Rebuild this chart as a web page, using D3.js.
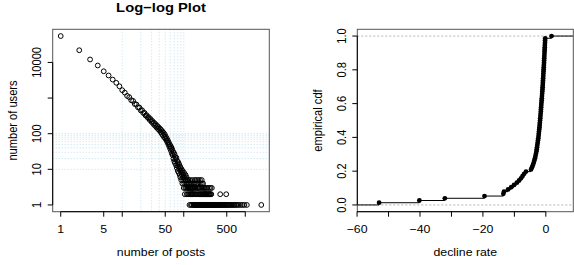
<!DOCTYPE html>
<html>
<head>
<meta charset="utf-8">
<script src="https://cdn.jsdelivr.net/npm/d3@7"></script>
<style>
  body { margin: 0; background: #fff; }
</style>
</head>
<body>
<div id="viz"></div>
<script>
// ---- data: users per number of posts (posts = index + 1 for the head)
const usersHead = [
  55000, 22000, 12100, 8200, 5650, 4300, 3300, 2680, 2140, 1660,
  1420, 1150, 1060, 870, 830, 680, 660, 550, 540, 450,
  455, 380, 385, 322, 330, 280, 290, 243, 256, 214,
  226, 188, 202, 168, 184, 151, 166, 137, 152, 125,
  139, 112, 127, 99, 116, 89, 106, 80, 96, 74,
  83, 66, 74, 58, 65, 51, 57, 44, 50, 38,
  45, 33, 41, 28, 36, 25, 31, 20, 29, 17,
  26, 15, 22, 19, 13, 21, 11, 17, 14, 9,
  16, 12, 8, 14, 10, 7, 12, 6, 11, 9,
  5, 10, 7, 8, 4, 9, 6, 5, 7, 3,
  8, 4, 6, 2, 5, 3, 7, 4, 5, 3, 6, 2, 4, 5, 3, 4, 2, 3, 5, 4,
  3, 2, 4, 1, 3, 5, 2, 3, 4, 2, 1, 3, 4, 2, 3, 1, 2, 5, 3, 2
];
// tail: post counts seen for exactly k users
const postsWith5 = [150, 158, 171, 183, 196];
const postsWith4 = [145, 152, 161, 167, 176, 188, 198, 206];
const postsWith3 = [143, 149, 155, 163, 169, 174, 181, 192, 201, 210, 219, 228, 241, 257, 272, 286];
const postsWith2 = [142, 147, 153, 157, 165, 172, 179, 185, 190, 194, 203, 208, 213, 217, 222, 226,
  231, 236, 243, 249, 254, 261, 267, 275, 280, 391, 490];
const postsWith1 = [144, 146, 148, 151, 154, 156, 159, 160, 162, 164, 166, 168, 170, 173, 175, 177,
  178, 180, 182, 184, 186, 187, 189, 191, 193, 195, 197, 199, 200, 202, 204, 205, 207, 209, 211,
  212, 214, 216, 218, 220, 223, 225, 227, 230, 233, 235, 238, 240, 244, 247, 251, 253, 256, 259,
  263, 266, 270, 274, 278, 283, 288, 293, 297, 302, 309, 314, 320, 327, 333, 341, 348, 356, 365,
  373, 384, 395, 404, 416, 428, 441, 455, 468, 483, 499, 516, 531, 552, 574, 597, 618, 645, 672,
  705, 741, 788, 842, 905, 967, 1060, 1820];
const gridPosts = [10, 20, 30, 40, 50, 60, 70, 80, 90, 100];
const gridUsers = [10, 20, 30, 40, 50, 60, 70, 80, 90, 100];
const postTicks = [1, 5, 10, 50, 100, 500, 1000];
const postLabels = [1, 5, 50, 500];
const userTicks = [1, 10, 100, 1000, 10000];
const userLabels = [1, 10, 100, 10000];

// decline rate sample (sorted) for the empirical cdf
const declineRate = [
  -53.0, -40.2, -32.1, -19.5, -13.5, -13.3, -12.0, -11.0, -10.1, -9.2,
  -8.5, -7.9, -7.4, -6.9, -6.3, -4.7, -4.4, -4.1, -3.85, -3.65,
  -3.45, -3.3, -3.15, -3.0, -2.9, -2.8, -2.7, -2.6, -2.5, -2.4,
  -2.32, -2.25, -2.18, -2.1, -2.03, -1.96, -1.9, -1.84, -1.78, -1.72,
  -1.66, -1.6, -1.55, -1.5, -1.45, -1.4, -1.34, -1.28, -1.23, -1.18,
  -1.13, -1.08, -1.03, -0.98, -0.94, -0.9, -0.86, -0.82, -0.78, -0.74,
  -0.7, -0.66, -0.62, -0.58, -0.55, -0.51, -0.48, -0.44, -0.41, -0.38,
  -0.34, -0.31, -0.27, -0.24, -0.2, 1.8
];
const rateTicks = [-60, -50, -40, -30, -20, -10, 0];
const rateLabels = [-60, -40, -20, 0];
const cdfTicks = [0, 0.2, 0.4, 0.6, 0.8, 1.0];

// ---- layout
const width = 574, height = 265;
const SX = 1.11;      // source picture is a bit wider than tall
const FS = 11.1;
const FONT = "'Liberation Sans', Arial, Helvetica, sans-serif";

const svg = d3.select("#viz").append("svg")
  .attr("width", width)
  .attr("height", height)
  .style("font-family", FONT);

function txt(g, x, y, s, opt = {}) {
  return g.append("text")
    .attr("transform", `translate(${x},${y}) scale(${SX},1)` + (opt.rot ? " rotate(-90)" : ""))
    .attr("text-anchor", "middle")
    .attr("font-size", opt.size || FS)
    .attr("font-weight", opt.bold ? "bold" : null)
    .attr("fill", "#000")
    .text(s);
}

// R-style axis: ticks + line from first to last tick, labels only where given
function axisR(g, scale, side, ticks, labels, box, fmt) {
  const a = g.append("g");
  if (side === "bottom") {
    const y = box.y1;
    a.append("line").attr("x1", scale(ticks[0])).attr("x2", scale(ticks[ticks.length - 1]))
      .attr("y1", y).attr("y2", y).attr("stroke", "#000");
    ticks.forEach(t => {
      a.append("line").attr("x1", scale(t)).attr("x2", scale(t))
        .attr("y1", y).attr("y2", y + 5).attr("stroke", "#000");
    });
    labels.forEach(t => txt(a, scale(t), y + 21.5, fmt(t)));
  } else {
    const x = box.x0;
    a.append("line").attr("y1", scale(ticks[0])).attr("y2", scale(ticks[ticks.length - 1]))
      .attr("x1", x).attr("x2", x).attr("stroke", "#000");
    ticks.forEach(t => {
      a.append("line").attr("y1", scale(t)).attr("y2", scale(t))
        .attr("x1", x).attr("x2", x - 5).attr("stroke", "#000");
    });
    labels.forEach(t => txt(a, x - 11.5, scale(t), fmt(t), { rot: true }));
  }
}

function logPad(lo, hi) {
  const a = Math.log10(lo), b = Math.log10(hi), p = 0.04 * (b - a);
  return [Math.pow(10, a - p), Math.pow(10, b + p)];
}

// ---- left panel: log-log plot
const boxL = { x0: 52.7, x1: 269.3, y0: 29.3, y1: 211.7 };

const points = usersHead.map((u, i) => ({ posts: i + 1, users: u }));
[[postsWith1, 1], [postsWith2, 2], [postsWith3, 3], [postsWith4, 4], [postsWith5, 5]]
  .forEach(([arr, k]) => arr.forEach(p => points.push({ posts: p, users: k })));

const x = d3.scaleLog()
  .domain(logPad(d3.min(points, d => d.posts), d3.max(points, d => d.posts)))
  .range([boxL.x0, boxL.x1]);
const y = d3.scaleLog()
  .domain(logPad(d3.min(points, d => d.users), d3.max(points, d => d.users)))
  .range([boxL.y1, boxL.y0]);

const gL = svg.append("g");

// grid
gL.append("g").selectAll("line").data(gridPosts).enter().append("line")
  .attr("x1", d => x(d)).attr("x2", d => x(d))
  .attr("y1", boxL.y0).attr("y2", boxL.y1)
  .attr("stroke", "#b9dcea").attr("stroke-width", 0.9).attr("stroke-dasharray", "1,2");
gL.append("g").selectAll("line").data(gridUsers).enter().append("line")
  .attr("y1", d => y(d)).attr("y2", d => y(d))
  .attr("x1", boxL.x0).attr("x2", boxL.x1)
  .attr("stroke", "#b9dcea").attr("stroke-width", 0.9).attr("stroke-dasharray", "1,2");

gL.append("g").selectAll("circle").data(points).enter().append("circle")
  .attr("cx", d => x(d.posts))
  .attr("cy", d => y(d.users))
  .attr("r", 2.4)
  .attr("fill", "none")
  .attr("stroke", "#000")
  .attr("stroke-width", 1);

gL.append("rect")
  .attr("x", boxL.x0).attr("y", boxL.y0)
  .attr("width", boxL.x1 - boxL.x0).attr("height", boxL.y1 - boxL.y0)
  .attr("fill", "none").attr("stroke", "#555");

axisR(gL, x, "bottom", postTicks, postLabels, boxL, d => String(d));
axisR(gL, y, "left", userTicks, userLabels, boxL, d => String(d));

txt(gL, (boxL.x0 + boxL.x1) / 2, 11.5, "Log\u2212log Plot", { size: 13.3, bold: true });
txt(gL, (boxL.x0 + boxL.x1) / 2, 256, "number of posts");
txt(gL, boxL.x0 - 35.5, (boxL.y0 + boxL.y1) / 2, "number of users", { rot: true });

// ---- right panel: empirical cdf
const boxR = { x0: 357.3, x1: 573.3, y0: 29.3, y1: 211.7 };
const n = declineRate.length;
const rx = d3.extent(declineRate);
const gaps = d3.pairs(declineRate).map(([a, b]) => b - a);
const dr = Math.max(0.08 * (rx[1] - rx[0]), d3.median(gaps));
const xlim = [rx[0] - dr, rx[1] + dr];
const xp = 0.04 * (xlim[1] - xlim[0]);

const xr = d3.scaleLinear().domain([xlim[0] - xp, xlim[1] + xp]).range([boxR.x0, boxR.x1]);
const yr = d3.scaleLinear().domain([-0.04, 1.04]).range([boxR.y1, boxR.y0]);

const gR = svg.append("g");

gR.append("g").selectAll("line").data([0, 1]).enter().append("line")
  .attr("x1", boxR.x0).attr("x2", boxR.x1)
  .attr("y1", d => yr(d)).attr("y2", d => yr(d))
  .attr("stroke", "#b3b3b3").attr("stroke-dasharray", "2,2");

const steps = [{ from: xr.domain()[0], to: declineRate[0], level: 0 }];
declineRate.forEach((v, i) => steps.push({
  from: v,
  to: i < n - 1 ? declineRate[i + 1] : xr.domain()[1],
  level: (i + 1) / n
}));

gR.append("g").selectAll("line").data(steps).enter().append("line")
  .attr("x1", d => xr(d.from)).attr("x2", d => xr(d.to))
  .attr("y1", d => yr(d.level)).attr("y2", d => yr(d.level))
  .attr("stroke", "#000").attr("stroke-width", 1);

gR.append("g").selectAll("circle").data(declineRate).enter().append("circle")
  .attr("cx", d => xr(d))
  .attr("cy", (d, i) => yr((i + 1) / n))
  .attr("r", 2.4)
  .attr("fill", "#000");

gR.append("rect")
  .attr("x", boxR.x0).attr("y", boxR.y0)
  .attr("width", boxR.x1 - boxR.x0).attr("height", boxR.y1 - boxR.y0)
  .attr("fill", "none").attr("stroke", "#555");

axisR(gR, xr, "bottom", rateTicks, rateLabels, boxR, d => d < 0 ? "\u2212" + Math.abs(d) : String(d));
axisR(gR, yr, "left", cdfTicks, cdfTicks, boxR, d => d.toFixed(1));

txt(gR, (boxR.x0 + boxR.x1) / 2, 256, "decline rate");
txt(gR, boxR.x0 - 35.5, (boxR.y0 + boxR.y1) / 2, "empirical cdf", { rot: true });
</script>
</body>
</html>
